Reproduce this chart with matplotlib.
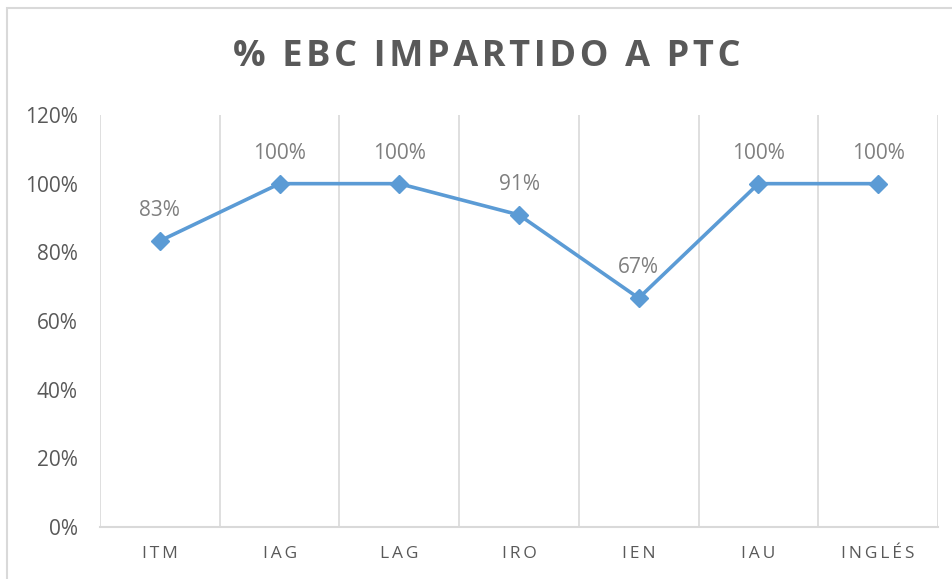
import matplotlib
matplotlib.use("Agg")
import matplotlib.pyplot as plt
from matplotlib.patches import Rectangle
import numpy as np

categories = ["ITM", "IAG", "LAG", "IRO", "IEN", "IAU", "INGLÉS"]
values = [83.33, 100, 100, 90.91, 66.67, 100, 100]
labels = ["83%", "100%", "100%", "91%", "67%", "100%", "100%"]
yticks = [0, 20, 40, 60, 80, 100, 120]
ytick_labels = ["0%", "20%", "40%", "60%", "80%", "100%", "120%"]
title = "% EBC IMPARTIDO A PTC"

W, H = 952, 579
fig = plt.figure(figsize=(W / 100, H / 100), dpi=100)
fam = ["Open Sans", "DejaVu Sans"]

# outer chart border
fig.patches.append(Rectangle((7 / W, -0.1), 1.2, 1 - 8 / H + 0.1, transform=fig.transFigure,
                             fill=False, edgecolor="#D9D9D9", linewidth=1.5))

ax = fig.add_axes([100 / W, 52 / H, 838 / W, 412 / H])
x = np.arange(len(categories))
ax.plot(x, values, color="#5B9BD5", linewidth=2.6, marker="D", markersize=9.5, zorder=3,
        clip_on=False)
for xi, v, lab in zip(x, values, labels):
    ax.annotate(lab, (xi, v), xytext=(0, 18), textcoords="offset points",
                ha="center", va="baseline", fontsize=15, color="#7F7F7F", family=fam)

ax.set_xlim(-0.5, len(categories) - 0.5)
ax.set_ylim(0, 120)
ax.set_yticks(yticks)
ax.set_yticklabels(ytick_labels, fontsize=15, color="#595959", family=fam)
ax.set_xticks(x)
sp = "\u2009"
ax.set_xticklabels([sp.join(c) for c in categories], fontsize=12.5, color="#595959", family=fam)
ax.tick_params(axis="both", length=0)
ax.tick_params(axis="y", pad=16)
ax.tick_params(axis="x", pad=14)

for b in np.arange(-0.5, len(categories), 1.0):
    ax.axvline(b, color="#D9D9D9", linewidth=1.2, zorder=1)
for s in ["top", "left", "right"]:
    ax.spines[s].set_visible(False)
ax.spines["bottom"].set_color("#D9D9D9")
ax.spines["bottom"].set_linewidth(1.5)

hs = "\u200a"
spaced_title = hs.join(title)
fig.text(487 / W, 1 - 57 / H, spaced_title, ha="center", va="center", fontsize=26,
         fontweight="bold", color="#595959", family=fam)

fig.savefig("out.png", dpi=100)
